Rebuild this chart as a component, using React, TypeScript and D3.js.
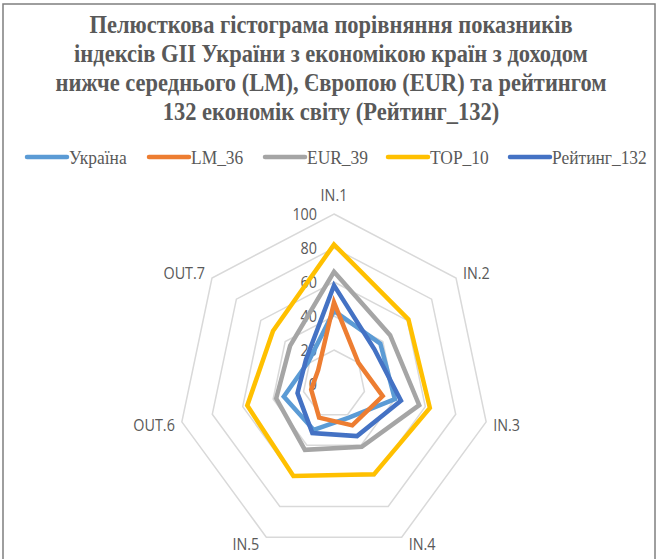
import React from "react";
import * as d3 from "d3";

const categories = ["IN.1", "IN.2", "IN.3", "IN.4", "IN.5", "OUT.6", "OUT.7"];
const seriesNames = ["Україна", "LM_36", "EUR_39", "TOP_10", "Рейтинг_132"];
const ukraine = [43, 38, 40, 22, 30, 33, 21];
const lm36 = [48, 20, 32, 27, 22, 15, 13];
const eur39 = [66, 46, 56, 41, 43, 38, 36];
const top10 = [82, 61, 63, 59, 60, 57, 50];
const rating132 = [58, 33, 44, 34, 32, 24, 23];
const tickValues = [0, 20, 40, 60, 80, 100];
const titleLines = [
  "Пелюсткова гістограма порівняння показників",
  "індексів GII України з економікою країн з доходом",
  "нижче середнього (LM), Європою (EUR) та рейтингом",
  "132 економік світу (Рейтинг_132)",
];
const colors = ["#5B9BD5", "#ED7D31", "#A5A5A5", "#FFC000", "#4472C4"];

const W = 658;
const H = 559;
const cx = 334;
const cy = 384;
const SX = 0.918;
const SXL = 0.87;

export default function App() {
  const allSeries = [ukraine, lm36, eur39, top10, rating132];
  const rY = d3.scaleLinear().domain([0, 100]).range([0, 170]);
  const rX = d3.scaleLinear().domain([0, 100]).range([0, 170 * SX]);
  const angle = d3
    .scaleLinear()
    .domain([0, categories.length])
    .range([-Math.PI / 2, (3 * Math.PI) / 2]);
  const pt = (i: number, v: number): [number, number] => [
    cx + rX(v) * Math.cos(angle(i)),
    cy + rY(v) * Math.sin(angle(i)),
  ];
  const line = d3.line<[number, number]>().curve(d3.curveLinearClosed);

  const rings = tickValues.filter((t) => t > 0);
  const serif = "'Liberation Serif', 'Times New Roman', serif";
  const sans = "'Open Sans', 'Liberation Sans', sans-serif";

  const legendX = [27, 149, 265, 388, 510];

  return (
    <svg
      width={W}
      height={H}
      style={{ position: "absolute", left: 0, top: 0, background: "#fff" }}
    >
      <rect x={0} y={0} width={W} height={H} fill="#fff" />
      <rect x={3} y={4} width={652} height={620} fill="none" stroke="#7F7F7F" strokeWidth={1.5} />
      {titleLines.map((t, i) => (
        <text
          key={i}
          transform={`translate(331, ${33 + i * 29}) scale(${SX},1)`}
          textAnchor="middle"
          fontFamily={serif}
          fontWeight="bold"
          fontSize={24.5}
          fill="#595959"
        >
          {t}
        </text>
      ))}
      {seriesNames.map((n, i) => (
        <g key={n}>
          <line
            x1={legendX[i]}
            x2={legendX[i] + 40}
            y1={157}
            y2={157}
            stroke={colors[i]}
            strokeWidth={4.5}
            strokeLinecap="round"
          />
          <text
            transform={`translate(${legendX[i] + 42}, 163.5) scale(${SX},1)`}
            fontFamily={serif}
            fontSize={19}
            fill="#595959"
          >
            {n}
          </text>
        </g>
      ))}
      {rings.map((t) => (
        <path
          key={t}
          d={line(categories.map((_, i) => pt(i, t))) || ""}
          fill="none"
          stroke="#D9D9D9"
          strokeWidth={1.5}
        />
      ))}
      {tickValues.map((t) => (
        <text
          key={t}
          transform={`translate(317, ${cy - rY(t)}) scale(${SXL},1)`}
          textAnchor="end"
          dominantBaseline="central"
          fontFamily={sans}
          fontSize={16.5}
          fill="#595959"
        >
          {t}
        </text>
      ))}
      {allSeries.map((s, si) => (
        <path
          key={si}
          d={line(s.map((v, i) => pt(i, v))) || ""}
          fill="none"
          stroke={colors[si]}
          strokeWidth={4.5}
          strokeLinejoin="miter"
        />
      ))}
      {categories.map((c, i) => {
        const [vx, vy] = pt(i, 100);
        const ca = Math.cos(angle(i));
        const sa = Math.sin(angle(i));
        const anchor = ca > 0.1 ? "start" : ca < -0.1 ? "end" : "middle";
        const dx = ca > 0.1 ? 7 : ca < -0.1 ? -7 : 0;
        const dy = sa < -0.9 ? -19 : sa < -0.3 ? -5 : sa < 0.5 ? 3 : 6;
        return (
          <text
            key={c}
            transform={`translate(${vx + dx}, ${vy + dy}) scale(${SXL},1)`}
            textAnchor={anchor}
            dominantBaseline="central"
            fontFamily={sans}
            fontSize={16.5}
            fill="#595959"
          >
            {c}
          </text>
        );
      })}
    </svg>
  );
}
